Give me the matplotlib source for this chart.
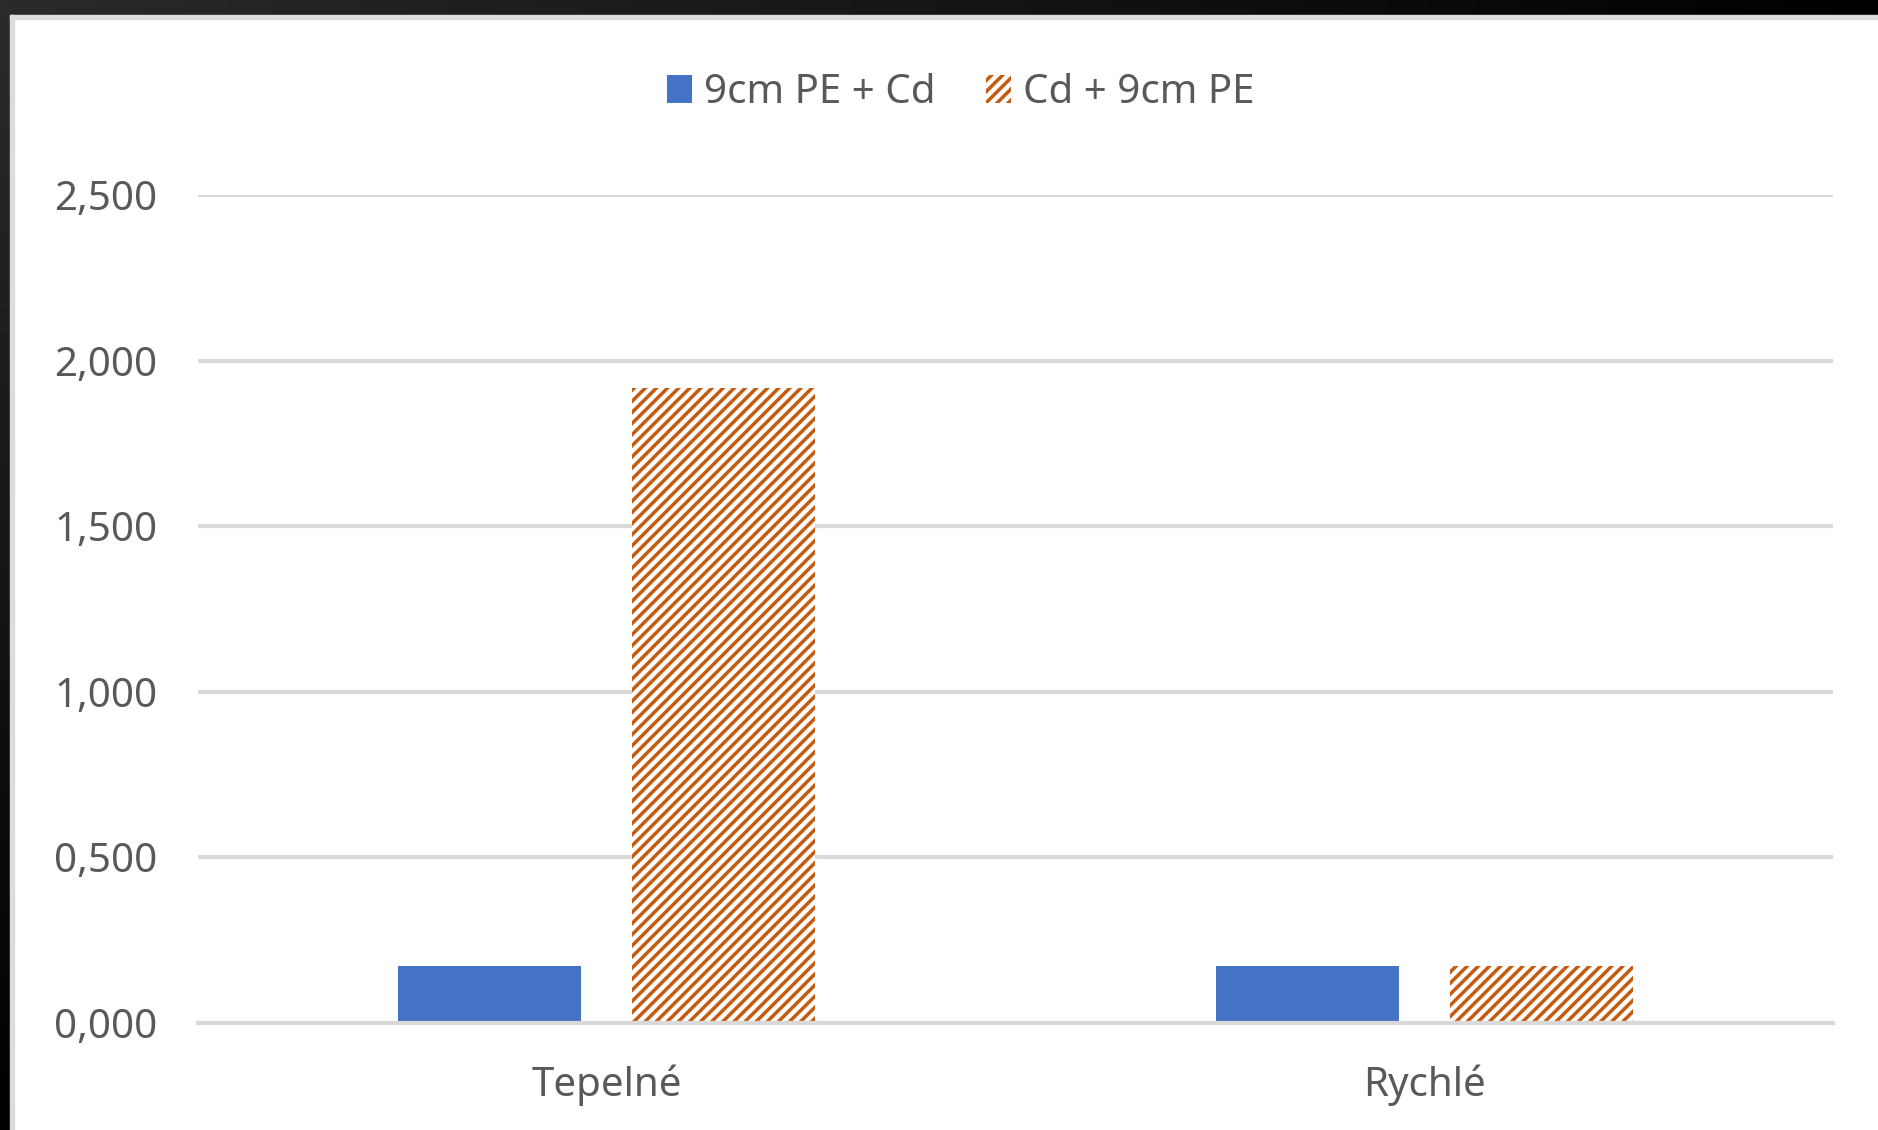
import numpy as np
import matplotlib.pyplot as plt
import matplotlib.colors as mcolors
from matplotlib.patches import Rectangle

# data
categories = ['Tepelné', 'Rychlé']
series_names = ['9cm PE + Cd', 'Cd + 9cm PE']
pe_cd = [0.172, 0.172]
cd_pe = [1.917, 0.172]
yticks = [0.0, 0.5, 1.0, 1.5, 2.0, 2.5]

blue = '#4472C4'
orange = '#C55A11'
text_color = '#595959'
grid_color = '#D9D9D9'

plt.rcParams['font.family'] = ['Noto Sans', 'DejaVu Sans']
plt.rcParams['hatch.linewidth'] = 2.5

W, H = 1878, 1130
fig = plt.figure(figsize=(W / 100, H / 100), dpi=100)
fig.patch.set_facecolor('white')

# axes placed to match the reference plot area
ax = fig.add_axes([198 / W, 1 - 1023 / H, (1833 - 198) / W, (1023 - 195) / H])

x = np.arange(len(categories))
width = 0.224
offset = 0.143
b1 = ax.bar(x - offset, pe_cd, width, color=blue, linewidth=0, zorder=2, label=series_names[0])
b2 = ax.bar(x + offset, cd_pe, width, facecolor='white', edgecolor=orange, hatch='///',
            linewidth=0, zorder=2, label=series_names[1])

ax.set_xlim(-0.5, 1.5)
ax.set_ylim(0, 2.5)
ax.set_yticks(yticks)
ax.set_yticklabels([f'{v:.3f}'.replace('.', ',') for v in yticks])
ax.set_xticks(x)
ax.set_xticklabels(categories)

# gridlines behind the bars, category axis line on top
ax.set_axisbelow(True)
ax.grid(axis='y', color=grid_color, linewidth=3)
ax.axhline(0, color=grid_color, linewidth=3, zorder=4, clip_on=False)
for s in ax.spines.values():
    s.set_visible(False)
ax.tick_params(axis='both', length=0, labelsize=29, colors=text_color)
ax.tick_params(axis='y', pad=29)
ax.tick_params(axis='x', pad=30)

fig.legend(handles=[b1, b2], loc='center', bbox_to_anchor=(961 / W, 1 - 93 / H), ncol=2,
           frameon=False, fontsize=29, labelcolor=text_color, handlelength=0.62,
           handleheight=0.67, handletextpad=0.3, columnspacing=1.25)

# dark screenshot frame at the top and left edges
top = fig.add_axes([0, 1 - 15 / H, 1, 15 / H])
top.imshow(np.linspace(0, 1, 256)[None, :], aspect='auto',
           cmap=mcolors.LinearSegmentedColormap.from_list('t', ['#2a2a2a', '#000000']))
top.axis('off')
left = fig.add_axes([0, 0, 10 / W, 1 - 15 / H])
left.imshow(np.linspace(0, 1, 256)[:, None], aspect='auto',
            cmap=mcolors.LinearSegmentedColormap.from_list('l', ['#2a2a2a', '#000000']))
left.axis('off')
fig.patches.append(Rectangle((10 / W, 1 - 19 / H), 1, 4 / H, transform=fig.transFigure,
                             color='#DCDCDC', zorder=5))
fig.patches.append(Rectangle((10 / W, 0), 4 / W, 1 - 15 / H, transform=fig.transFigure,
                             color='#DCDCDC', zorder=5))

fig.savefig('out.png', dpi=100)
